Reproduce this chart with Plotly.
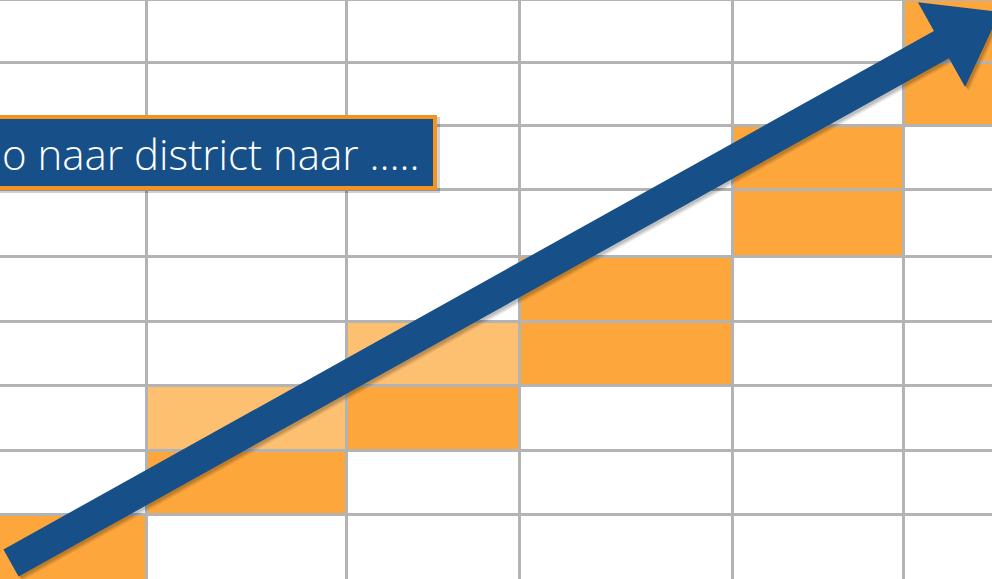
import numpy as np
import plotly.graph_objects as go

# Grid structure (column / row boundaries in picture units)
col_edges = [-60, 147, 347, 520, 733, 904, 1090]
row_edges = [0, 63, 126, 190, 257, 322, 386, 451, 515, 582]

# Cell states: 0 = empty, 1 = orange, 2 = light orange (rows top -> bottom)
cells = [
    [0, 0, 0, 0, 0, 1],
    [0, 0, 0, 0, 0, 1],
    [0, 0, 0, 0, 1, 0],
    [0, 0, 0, 0, 1, 0],
    [0, 0, 0, 1, 0, 0],
    [0, 0, 2, 1, 0, 0],
    [0, 2, 1, 0, 0, 0],
    [0, 1, 0, 0, 0, 0],
    [1, 0, 0, 0, 0, 0],
]

label_text = "o naar district naar ….."

W, H = 992, 579
WHITE = "#ffffff"
ORANGE = "#FCA63B"
LIGHT = "#FDBF70"
BLUE = "#175088"
BORDER = "#F39322"
GRID = "#b3b3b3"

fig = go.Figure()
fig.add_trace(go.Heatmap(
    x=col_edges, y=row_edges, z=cells,
    zmin=0, zmax=2,
    colorscale=[[0, WHITE], [0.5, ORANGE], [1, LIGHT]],
    showscale=False, xgap=3, ygap=3, hoverinfo="skip",
))

# Arrow polygon
tail = np.array([11.0, 563.0])
tip = np.array([1000.0, 12.0])
shaft_w, head_w, head_len = 31.0, 97.0, 67.0
d = tip - tail
u = d / np.linalg.norm(d)
n = np.array([-u[1], u[0]])
base = tip - u * head_len
pts = [
    tail + n * shaft_w / 2,
    base + n * shaft_w / 2,
    base + n * head_w / 2,
    tip,
    base - n * head_w / 2,
    base - n * shaft_w / 2,
    tail - n * shaft_w / 2,
]

def path(points, off=(0, 0)):
    return "M " + " L ".join(f"{p[0]+off[0]:.2f},{p[1]+off[1]:.2f}" for p in points) + " Z"

shapes = []
for k, a in [(4, 0.07), (3, 0.09), (2, 0.11)]:
    shapes.append(dict(type="path", path=path(pts, (k, k)), fillcolor=f"rgba(0,0,0,{a})",
                       line=dict(width=0), layer="above"))
shapes.append(dict(type="path", path=path(pts), fillcolor=BLUE, line=dict(width=0), layer="above"))

# Text box with shadow
shapes.append(dict(type="rect", x0=-10, x1=440, y0=117, y1=193, fillcolor="rgba(0,0,0,0.18)",
                   line=dict(width=0), layer="above"))
shapes.append(dict(type="rect", x0=-10, x1=435, y0=117, y1=188, fillcolor=BLUE,
                   line=dict(color=BORDER, width=4), layer="above"))

fig.update_layout(
    width=W, height=H, margin=dict(l=0, r=0, t=0, b=0),
    paper_bgcolor=GRID, plot_bgcolor=GRID,
    xaxis=dict(range=[0, W], visible=False, fixedrange=True),
    yaxis=dict(range=[H, 0], visible=False, fixedrange=True),
    shapes=shapes,
    showlegend=False,
    annotations=[dict(
        x=422, y=153, xref="x", yref="y", xanchor="right", yanchor="middle",
        text=label_text, showarrow=False,
        font=dict(family="Open Sans", size=42, color="white", weight=300),
    )],
)

fig.write_html("out.html", config={"displayModeBar": False},
               post_script="document.body.style.margin='0';document.body.style.overflow='hidden';")
